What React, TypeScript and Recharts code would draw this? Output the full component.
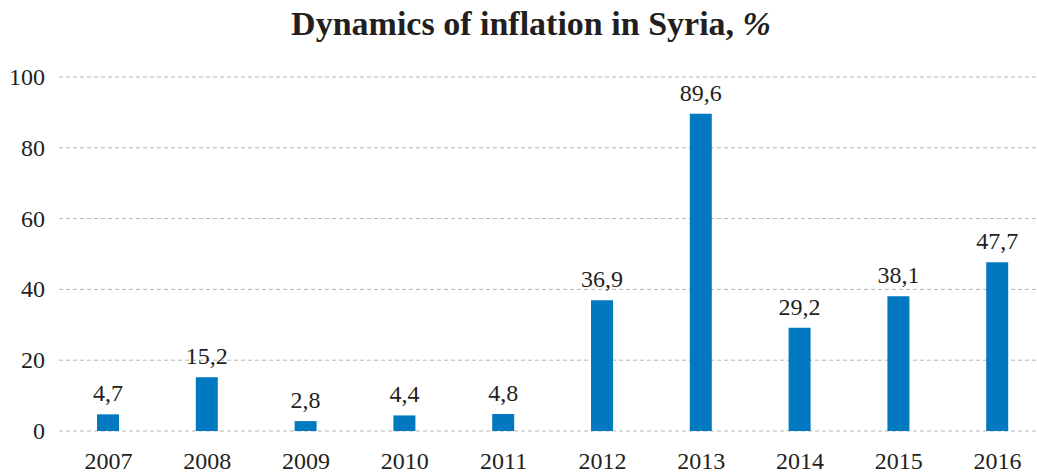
import { BarChart, Bar, XAxis, YAxis, CartesianGrid, LabelList } from 'recharts';

const years = ['2007', '2008', '2009', '2010', '2011', '2012', '2013', '2014', '2015', '2016'];
const inflation = [4.7, 15.2, 2.8, 4.4, 4.8, 36.9, 89.6, 29.2, 38.1, 47.7];
const yTicks = [0, 20, 40, 60, 80, 100];

const FONT = 'Liberation Serif';
const BAR_COLOR = '#0079c1';
const TEXT_COLOR = '#231f20';

const data = years.map((year, i) => ({ year, value: inflation[i] }));

const XTick = ({ x, y, payload }: any) => (
  <text x={x} y={y} dy={17} textAnchor="middle" fontFamily={FONT} fontSize={24} fill={TEXT_COLOR}>
    {payload.value}
  </text>
);

const YTick = ({ x, y, payload }: any) => (
  <text x={x} y={y} dy={8} textAnchor="end" fontFamily={FONT} fontSize={24} fill={TEXT_COLOR}>
    {payload.value}
  </text>
);

const ValueLabel = ({ x, y, width, value }: any) => (
  <text x={x + width / 2} y={y - 13} textAnchor="middle" fontFamily={FONT} fontSize={24} fill={TEXT_COLOR}>
    {String(value).replace('.', ',')}
  </text>
);

export default function App() {
  return (
    <div
      style={{
        position: 'fixed',
        left: 0,
        top: 0,
        width: 1037,
        height: 473,
        overflow: 'hidden',
        background: '#fff',
        fontFamily: FONT,
      }}
    >
      <div
        style={{
          position: 'absolute',
          left: 0,
          top: 5,
          width: 1062,
          textAlign: 'center',
          fontSize: 34,
          fontWeight: 700,
          color: TEXT_COLOR,
        }}
      >
        Dynamics of inflation in Syria, <i>%</i>
      </div>
      <BarChart
        width={1050}
        height={473}
        data={data}
        margin={{ top: 77, right: 3, left: 0, bottom: 0 }}
      >
        <CartesianGrid stroke="#b5b5b5" strokeDasharray="4 3" vertical={false} />
        <XAxis
          dataKey="year"
          axisLine={false}
          tickLine={false}
          tickSize={0}
          tickMargin={21}
          height={42}
          tick={<XTick />}
        />
        <YAxis
          domain={[0, 100]}
          ticks={yTicks}
          axisLine={false}
          tickLine={false}
          tickSize={0}
          tickMargin={14}
          width={59}
          tick={<YTick />}
        />
        <Bar dataKey="value" fill={BAR_COLOR} barSize={22} isAnimationActive={false}>
          <LabelList dataKey="value" content={<ValueLabel />} />
        </Bar>
      </BarChart>
    </div>
  );
}
